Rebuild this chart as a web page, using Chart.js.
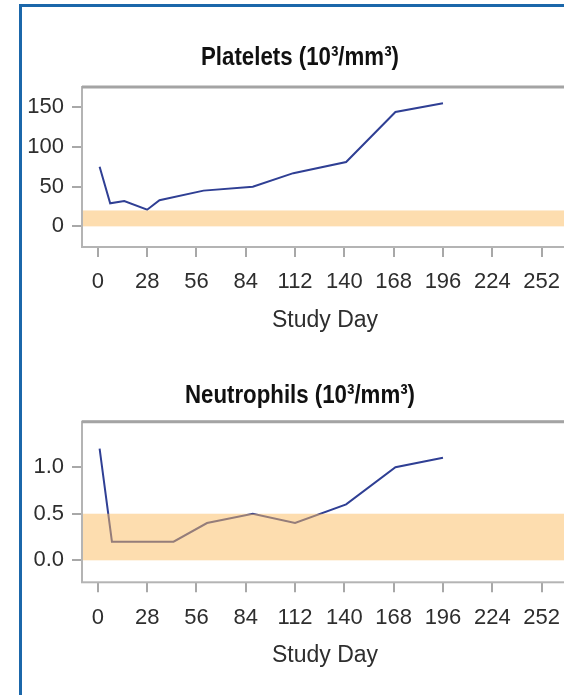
<!DOCTYPE html>
<html>
<head>
  <title>Platelets and Neutrophils by Study Day</title>
  <script src="https://cdn.jsdelivr.net/npm/chart.js"></script>
  <style>
    html, body {
      margin: 0;
      padding: 0;
      background: #fff;
      overflow: hidden;
    }
    body {
      width: 564px;
      height: 695px;
      position: relative;
      font-family: "Liberation Sans", Arial, sans-serif;
    }
    #frame {
      position: absolute;
      left: 19px;
      top: 4px;
      width: 600px;
      height: 720px;
      border-left: 3px solid #1b67aa;
      border-top: 3px solid #1b67aa;
    }
    .title {
      position: absolute;
      left: 0;
      width: 600px;
      text-align: center;
      font-family: "Liberation Sans", Arial, sans-serif;
      font-weight: bold;
      font-size: 26.5px;
      line-height: 1;
      color: #111;
      white-space: nowrap;
      transform: scaleX(0.84);
      transform-origin: 300px 0;
    }
    canvas {
      position: absolute;
      left: 0;
    }
  </style>
</head>
<body>
  <canvas id="platelets" width="580" height="345" style="top:0"></canvas>
  <canvas id="neutrophils" width="580" height="355" style="top:340px"></canvas>
  <div class="title" style="top:42.6px">Platelets (10³/mm³)</div>
  <div class="title" style="top:381px">Neutrophils (10³/mm³)</div>
  <div id="frame"></div>

  <script>
    // study day ticks shared by both panels
    const studyDayTicks = [0, 28, 56, 84, 112, 140, 168, 196, 224, 252];

    // platelets (10^3/mm^3)
    const plateletDays = [1, 7, 15, 28, 35, 60, 88, 111, 141, 169, 196];
    const plateletValues = [75, 29, 32, 21, 33, 45, 50, 67, 81, 144, 155];
    const plateletTicks = [0, 50, 100, 150];
    const plateletNormal = [0, 20];

    // neutrophils (10^3/mm^3)
    const neutrophilDays = [1, 8, 43, 62, 88, 112, 141, 169, 196];
    const neutrophilValues = [1.2, 0.2, 0.2, 0.4, 0.5, 0.4, 0.6, 1.0, 1.1];
    const neutrophilTicks = [0, 0.5, 1.0];
    const neutrophilNormal = [0, 0.5];

    const font = { family: '"Liberation Sans", Arial, sans-serif', size: 22 };
    const titleFont = { family: '"Liberation Sans", Arial, sans-serif', size: 23 };
    const tickGray = '#a8a8a8';

    // orange reference band, drawn over the line so it tints it
    const bandPlugin = {
      id: 'band',
      afterDatasetsDraw(chart, args, opts) {
        const { ctx, chartArea } = chart;
        const y = chart.scales.y;
        const top = y.getPixelForValue(opts.range[1]);
        const bottom = y.getPixelForValue(opts.range[0]);
        ctx.save();
        ctx.fillStyle = 'rgba(251,188,95,0.5)';
        ctx.fillRect(chartArea.left, top, chartArea.right - chartArea.left, bottom - top);
        ctx.restore();
      }
    };

    const framePlugin = {
      id: 'frame',
      afterDraw(chart) {
        const { ctx, chartArea } = chart;
        ctx.save();
        ctx.strokeStyle = '#b4b4b4';
        ctx.lineWidth = 2;
        ctx.strokeRect(chartArea.left, chartArea.top, chartArea.right - chartArea.left, chartArea.bottom - chartArea.top);
        ctx.strokeStyle = '#a4a4a4';
        ctx.lineWidth = 3;
        ctx.beginPath();
        ctx.moveTo(chartArea.left, chartArea.top);
        ctx.lineTo(chartArea.right, chartArea.top);
        ctx.stroke();
        ctx.restore();
      }
    };

    function makeChart(id, days, values, yTicks, yMin, yMax, normal, fmt, padTop, padBottom) {
      const ctx = document.getElementById(id).getContext('2d');
      return new Chart(ctx, {
        type: 'line',
        data: {
          datasets: [{
            data: days.map((d, i) => ({ x: d, y: values[i] })),
            borderColor: '#2f3f94',
            borderWidth: 2,
            pointRadius: 0,
            tension: 0
          }]
        },
        options: {
          responsive: false,
          animation: false,
          layout: { padding: { top: padTop, bottom: padBottom, left: 0, right: 12 } },
          plugins: {
            legend: { display: false },
            tooltip: { enabled: false },
            band: { range: normal }
          },
          scales: {
            x: {
              type: 'linear',
              min: -9,
              max: 267,
              afterBuildTicks: s => { s.ticks = studyDayTicks.map(v => ({ value: v })); },
              afterFit: s => { s.height = 91; },
              grid: { drawOnChartArea: false, drawTicks: true, tickLength: 10, color: tickGray, lineWidth: 2 },
              border: { display: false },
              ticks: { padding: 12, color: '#2e2e2e', font: font, maxRotation: 0, autoSkip: false },
              title: { display: true, text: 'Study Day', color: '#2e2e2e', font: titleFont, padding: { top: 10, bottom: 4 } }
            },
            y: {
              min: yMin,
              max: yMax,
              afterBuildTicks: s => { s.ticks = yTicks.map(v => ({ value: v })); },
              afterFit: s => { s.width = 82; },
              grid: { drawOnChartArea: false, drawTicks: true, tickLength: 10, color: tickGray, lineWidth: 2 },
              border: { display: false },
              ticks: { padding: 8, color: '#2e2e2e', font: font, callback: fmt }
            }
          }
        },
        plugins: [bandPlugin, framePlugin]
      });
    }

    makeChart('platelets', plateletDays, plateletValues, plateletTicks, -26, 175.5, plateletNormal,
      v => String(v), 87, 7);
    makeChart('neutrophils', neutrophilDays, neutrophilValues, neutrophilTicks, -0.236, 1.488, neutrophilNormal,
      v => v.toFixed(1), 81.7, 21.7);
  </script>
</body>
</html>
